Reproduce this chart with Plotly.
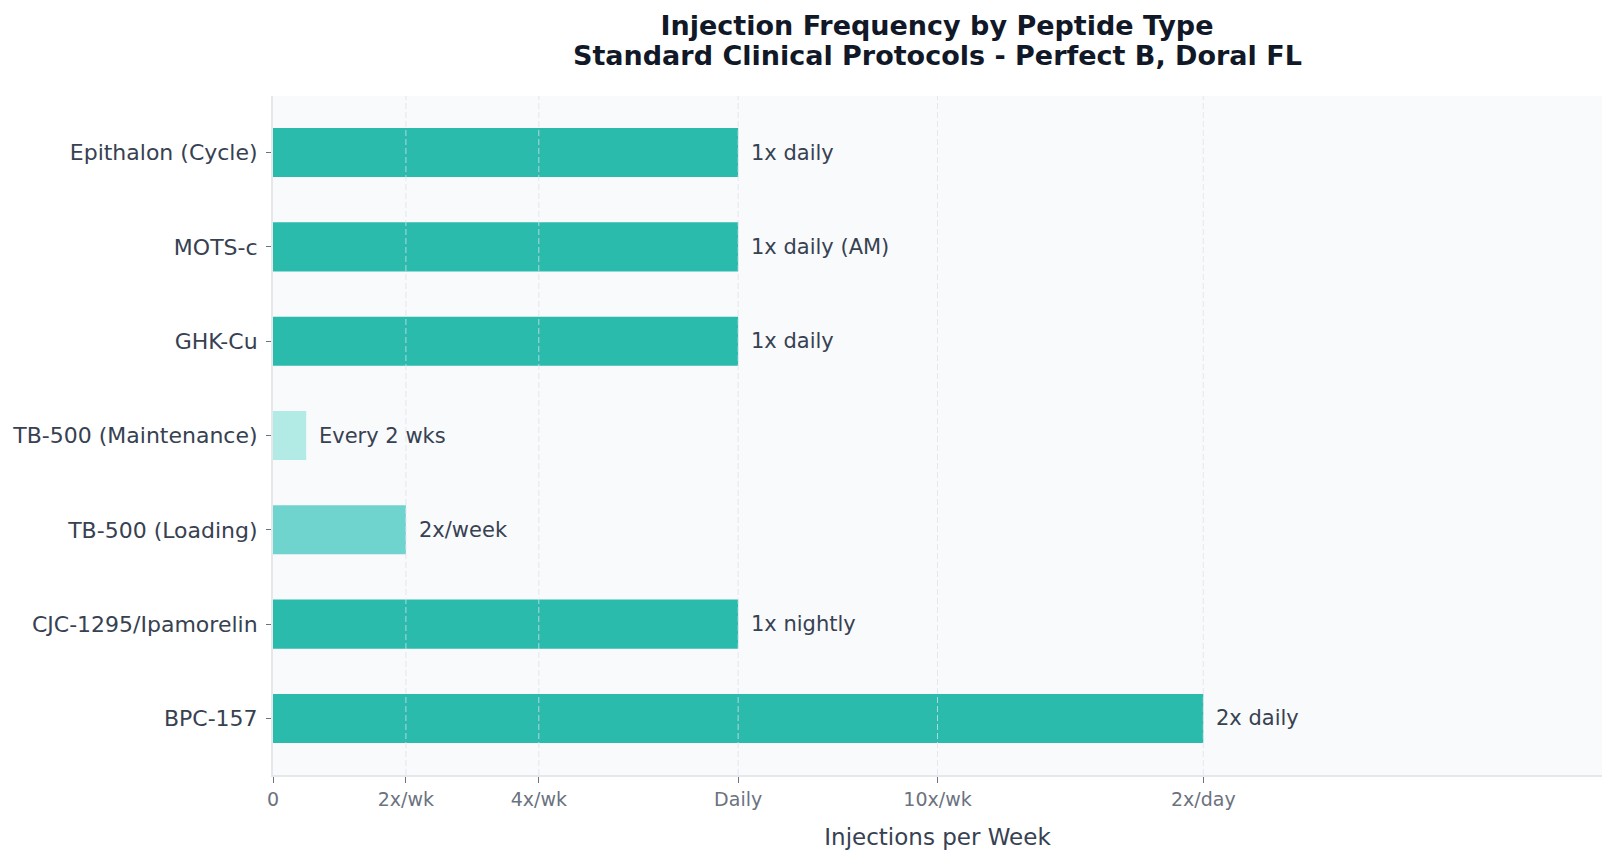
import plotly.graph_objects as go

peptides = ["BPC-157", "CJC-1295/Ipamorelin", "TB-500 (Loading)", "TB-500 (Maintenance)",
            "GHK-Cu", "MOTS-c", "Epithalon (Cycle)"]
per_week = [14, 7, 2, 0.5, 7, 7, 7]
labels = ["2x daily", "1x nightly", "2x/week", "Every 2 wks", "1x daily", "1x daily (AM)", "1x daily"]
colors = ["#2BBBAD", "#2BBBAD", "#6FD3CE", "#B2EBE6", "#2BBBAD", "#2BBBAD", "#2BBBAD"]
tick_vals = [0, 2, 4, 7, 10, 14]
tick_text = ["0", "2x/wk", "4x/wk", "Daily", "10x/wk", "2x/day"]
title_line1 = "Injection Frequency by Peptide Type"
title_line2 = "Standard Clinical Protocols - Perfect B, Doral FL"

fig = go.Figure()
fig.add_trace(go.Bar(
    y=peptides, x=per_week, orientation="h",
    marker=dict(color=colors, line=dict(width=0)),
    width=0.52, hoverinfo="x+y",
))

# dashed vertical grid drawn above the bars, as in the reference
for tv in tick_vals[1:]:
    fig.add_shape(type="line", xref="x", yref="paper", x0=tv, x1=tv, y0=0, y1=1,
                  layer="above",
                  line=dict(color="rgba(220,226,234,0.75)", width=1, dash="6px,3px"))

for p, v, t in zip(peptides, per_week, labels):
    fig.add_annotation(x=v, y=p, text=t, showarrow=False, xanchor="left", xshift=11,
                       font=dict(family="DejaVu Sans", size=21, color="#374151"))

# second title line as a paper annotation (tighter line spacing than a <br> title)
fig.add_annotation(xref="paper", yref="paper", x=(937 - 273) / (1616 - 287), y=(775 - 56) / 679,
                   text="<b>" + title_line2 + "</b>", showarrow=False,
                   xanchor="center", yanchor="middle",
                   font=dict(family="DejaVu Sans", size=27, color="#111827"))

fig.update_layout(
    width=1616, height=865,
    margin=dict(l=273, r=14, t=96, b=90),
    paper_bgcolor="white", plot_bgcolor="#F8FAFC",
    font=dict(family="DejaVu Sans", color="#374151"),
    showlegend=False,
    title=dict(
        text="<b>" + title_line1 + "</b>",
        x=937 / 1616, xanchor="center", y=1 - 26 / 865, yanchor="middle",
        font=dict(family="DejaVu Sans", size=27, color="#111827"),
    ),
)
fig.update_xaxes(
    range=[0, 20], tickvals=tick_vals, ticktext=tick_text,
    showgrid=False,
    zeroline=False, showline=True, linecolor="#E5E7EB", linewidth=2,
    ticks="outside", ticklen=6, tickcolor="#6B7280", tickwidth=1,
    tickfont=dict(size=19, color="#6B7280"),
    title=dict(text="Injections per Week", font=dict(size=23, color="#374151"), standoff=20),
)
fig.update_yaxes(
    range=[-0.6, 6.6], showgrid=False, zeroline=False,
    showline=True, linecolor="#E5E7EB", linewidth=2,
    ticks="outside", ticklen=5, tickcolor="#6B7280", tickwidth=1,
    tickfont=dict(size=22, color="#374151"), ticklabelstandoff=4,
)

fig.write_html("out.html")
